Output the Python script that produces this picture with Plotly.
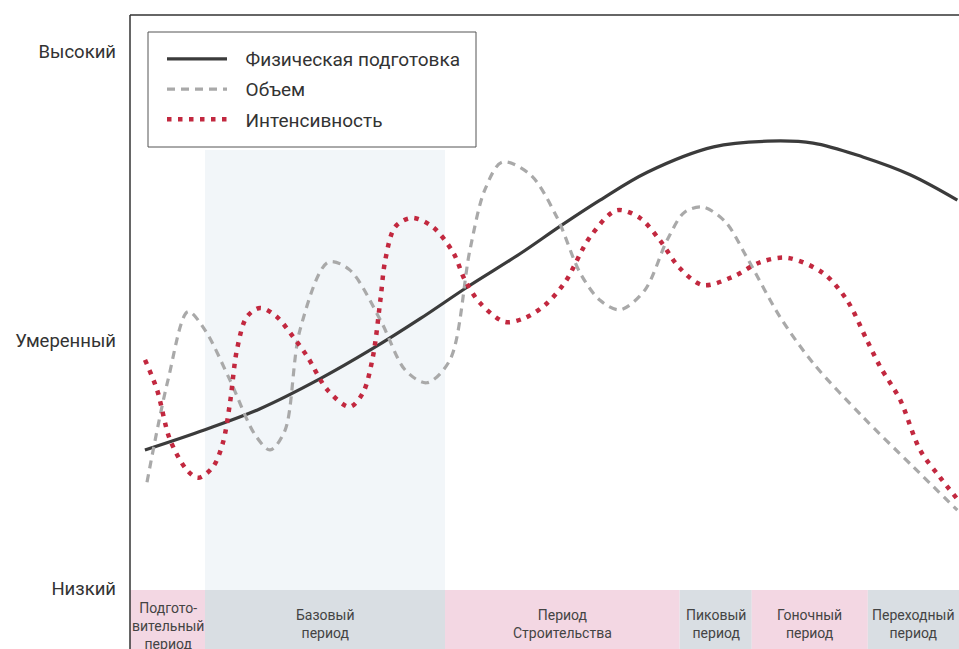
import plotly.graph_objects as go

# ---- data (x: timeline 0-100, y: level 0-100) ----
fitness_x = [1.8, 9.05, 15.7, 22.9, 29.3, 35.0, 40.7, 47.0, 51.9, 56.7, 62.4, 70.4, 76.9, 82.4, 88.4, 94.1, 99.8]
fitness_y = [31.4, 34.6, 37.9, 42.6, 47.4, 52.1, 57.1, 62.3, 66.7, 70.8, 75.2, 79.2, 80.1, 79.8, 77.6, 74.8, 70.8]

volume_x = [2.05, 4.58, 7.0, 9.05, 12.06, 15.08, 16.9, 18.7, 20.5, 23.9, 26.5, 30.2, 33.2, 35.8, 38.6, 41.0,
            42.8, 44.9, 48.3, 51.5, 54.3, 56.7, 59.1, 62.1, 64.8, 66.9, 69.1, 71.8, 74.4, 78.4, 82.4, 88.4, 94.5, 99.8]
volume_y = [26.3, 42.4, 53.2, 50.3, 42.4, 33.8, 31.4, 34.5, 50.3, 61.0, 59.8, 51.9, 44.0, 42.0, 45.6, 62.9,
            72.4, 76.8, 74.8, 68.1, 59.3, 55.0, 53.5, 56.6, 64.5, 68.9, 69.7, 67.4, 61.8, 52.4, 45.1, 36.6, 28.7, 21.9]

intensity_x = [1.81, 3.26, 4.83, 6.88, 8.2, 10.0, 11.2, 12.06, 12.9, 14.1, 15.7, 17.7, 19.7, 21.4, 23.8, 26.5,
               28.1, 29.3, 30.2, 30.8, 32.0, 34.0, 36.5, 39.0, 40.4, 42.2, 45.2, 47.6, 50.1, 52.5, 55.5, 58.7,
               61.5, 63.9, 66.3, 69.1, 72.7, 76.0, 79.3, 83.6, 86.5, 88.9, 90.5, 92.9, 95.3, 97.7, 99.9]
intensity_y = [45.6, 40.9, 33.0, 28.2, 27.0, 28.7, 32.5, 38.8, 47.2, 52.4, 53.8, 52.4, 49.2, 46.1, 40.9, 38.2,
               40.4, 46.1, 55.0, 61.4, 66.6, 68.0, 66.6, 62.5, 58.2, 54.6, 51.6, 52.2, 54.3, 57.9, 65.0, 69.2,
               68.0, 64.5, 60.1, 57.4, 58.7, 61.0, 61.7, 59.3, 55.0, 48.7, 44.5, 39.3, 31.4, 27.1, 23.5]

level_vals = [9.6, 48.7, 94.2]
level_labels = ["Низкий", "Умеренный", "Высокий"]

period_bounds = [0, 9.05, 38.0, 66.3, 75.0, 89.0, 100]
period_labels = ["Подгото-<br>вительный<br>период", "Базовый<br>период", "Период<br>Строительства",
                 "Пиковый<br>период", "Гоночный<br>период", "Переходный<br>период"]
period_colors = ["#f3d7e3", "#d9dee3", "#f3d7e3", "#d9dee3", "#f3d7e3", "#d9dee3"]

FONT = "Roboto"
GAP = "\u2002\u2009"

W, H = 959, 649
ML, MT = 130, 15
PW, PH = W - ML, H - MT


def px_x(p):
    return (p - ML) / PW


def px_y(p):
    return (H - p) / PH


fig = go.Figure()
fig.add_trace(go.Scatter(x=fitness_x, y=fitness_y, mode="lines", name=GAP + "Физическая подготовка",
                         line=dict(color="#3b3b3b", width=3.2, shape="spline", smoothing=1.0),
                         legendgroup="a"))
fig.add_trace(go.Scatter(x=volume_x, y=volume_y, mode="lines", name=GAP + "Объем",
                         line=dict(color="#a9a9a9", width=3.2, dash="8px,6px", shape="spline", smoothing=0.9),
                         legendgroup="b"))
fig.add_trace(go.Scatter(x=intensity_x, y=intensity_y, mode="lines", name=GAP + "Интенсивность",
                         line=dict(color="#c2283f", width=4.5, dash="4.5px,6.5px", shape="spline", smoothing=0.9),
                         legendgroup="c"))

shapes = []
# faint tinted background region
shapes.append(dict(type="rect", xref="x", yref="y", x0=period_bounds[1], x1=period_bounds[2], y0=9.3, y1=78.7,
                   fillcolor="#f2f6f9", line=dict(width=0), layer="below"))
annotations = []
for i, lab in enumerate(period_labels):
    x0, x1 = period_bounds[i], period_bounds[i + 1]
    shapes.append(dict(type="rect", xref="x", yref="y", x0=x0, x1=x1, y0=0, y1=9.3,
                       fillcolor=period_colors[i], line=dict(width=0), layer="below"))
    annotations.append(dict(x=(x0 + x1) / 2, y=8.1 if i == 0 else 7.0, xref="x", yref="y",
                            text=lab, showarrow=False, yanchor="top", xanchor="center",
                            font=dict(family=FONT, size=14, color="#444444")))
# frame lines: left and top
shapes.append(dict(type="line", xref="paper", yref="paper", x0=0, x1=0, y0=0, y1=1,
                   line=dict(color="#333333", width=1.5)))
shapes.append(dict(type="line", xref="paper", yref="paper", x0=0, x1=1, y0=1, y1=1,
                   line=dict(color="#333333", width=1.5)))
# legend frame
shapes.append(dict(type="rect", xref="paper", yref="paper", x0=px_x(148), x1=px_x(476),
                   y0=px_y(147), y1=px_y(32), fillcolor="white",
                   line=dict(color="#555555", width=1), layer="above"))

fig.update_layout(
    width=W, height=H,
    margin=dict(l=ML, r=0, t=MT, b=0),
    paper_bgcolor="white", plot_bgcolor="white",
    shapes=shapes, annotations=annotations,
    font=dict(family=FONT, color="#333333"),
    showlegend=True,
    legend=dict(x=px_x(162), y=px_y(40), xanchor="left", yanchor="top",
                bgcolor="rgba(0,0,0,0)", borderwidth=0,
                font=dict(family=FONT, size=19, color="#333333"),
                itemwidth=60, tracegroupgap=2.5, traceorder="grouped"),
    xaxis=dict(range=[0, 100], showgrid=False, zeroline=False, showticklabels=False, showline=False),
    yaxis=dict(range=[0, 100], showgrid=False, zeroline=False, showline=False,
               tickvals=level_vals, ticktext=level_labels, ticks="", ticklabelstandoff=13,
               tickfont=dict(family=FONT, size=18.5, color="#333333")),
)

fig.write_html("out.html", config={"displayModeBar": False},
               post_script="document.body.style.margin='0';")
